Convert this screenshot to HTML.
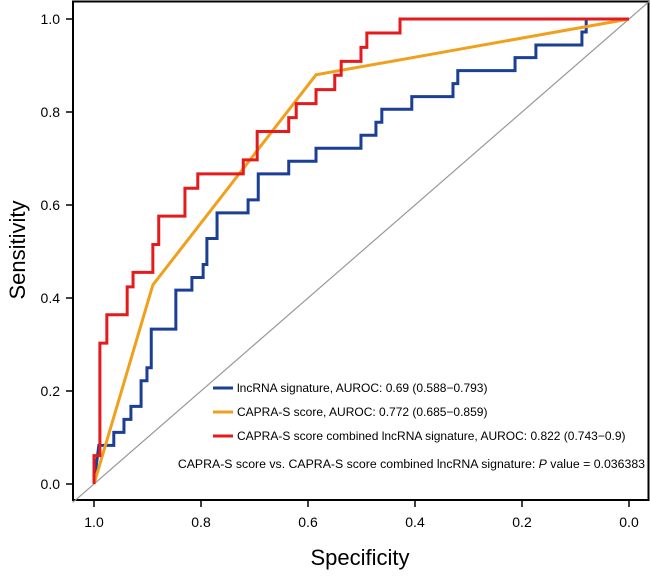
<!DOCTYPE html>
<html><head><meta charset="utf-8"><style>
body{margin:0;background:#fff;font-family:"Liberation Sans",Arial,sans-serif}
svg text{font-family:"Liberation Sans",Arial,sans-serif}
</style></head><body>
<svg id="chart" width="650" height="575" viewBox="0 0 650 575" xmlns="http://www.w3.org/2000/svg">
<rect x="73" y="1.5" width="575.5" height="498.5" fill="none" stroke="#000" stroke-width="2"/>
<g id="axes"></g>
<line id="diag" stroke="#999" stroke-width="1.2"/>
<g id="series"></g>
<g>
<line x1="213" y1="388" x2="233" y2="388" stroke="#1a3f95" stroke-width="3"/>
<text x="237" y="392" font-size="12">lncRNA signature, AUROC: 0.69 (0.588−0.793)</text>
<line x1="213" y1="412" x2="233" y2="412" stroke="#f0a01c" stroke-width="3"/>
<text x="237" y="416" font-size="12">CAPRA-S score, AUROC: 0.772 (0.685−0.859)</text>
<line x1="213" y1="436" x2="233" y2="436" stroke="#e41a1c" stroke-width="3"/>
<text x="237" y="440" font-size="12">CAPRA-S score combined lncRNA signature, AUROC: 0.822 (0.743−0.9)</text>
</g>
<text x="645" y="468" font-size="12.3" text-anchor="end">CAPRA-S score vs. CAPRA-S score combined lncRNA signature: <tspan font-style="italic">P</tspan> value = 0.036383</text>
<text x="360" y="565" font-size="22" text-anchor="middle">Specificity</text>
<text transform="translate(25,250) rotate(-90)" font-size="22" text-anchor="middle">Sensitivity</text>
</svg>
<script>
const xTicks = [1.0, 0.8, 0.6, 0.4, 0.2, 0.0];
const yTicks = [0.0, 0.2, 0.4, 0.6, 0.8, 1.0];
const tickLabels = ["0.0","0.2","0.4","0.6","0.8","1.0"];
const redSpec = [1,1,0.989,0.989,0.976,0.976,0.938,0.938,0.927,0.927,0.890,0.890,0.879,0.879,0.830,0.830,0.806,0.806,0.721,0.721,0.695,0.695,0.636,0.636,0.622,0.622,0.585,0.585,0.550,0.550,0.538,0.538,0.501,0.501,0.490,0.490,0.428,0.428,0];
const redSens = [0,0.061,0.061,0.303,0.303,0.364,0.364,0.424,0.424,0.455,0.455,0.515,0.515,0.576,0.576,0.636,0.636,0.667,0.667,0.697,0.697,0.758,0.758,0.788,0.788,0.818,0.818,0.848,0.848,0.879,0.879,0.909,0.909,0.939,0.939,0.970,0.970,1,1];
const blueSpec = [1,0.991,0.963,0.963,0.944,0.944,0.931,0.931,0.912,0.912,0.901,0.901,0.893,0.893,0.847,0.847,0.817,0.817,0.796,0.796,0.789,0.789,0.770,0.770,0.712,0.712,0.693,0.693,0.636,0.636,0.585,0.585,0.501,0.501,0.473,0.473,0.462,0.462,0.406,0.406,0.329,0.329,0.320,0.320,0.213,0.213,0.174,0.174,0.088,0.088,0.080,0.080,0];
const blueSens = [0,0.083,0.083,0.111,0.111,0.139,0.139,0.167,0.167,0.222,0.222,0.25,0.25,0.333,0.333,0.417,0.417,0.444,0.444,0.472,0.472,0.528,0.528,0.583,0.583,0.611,0.611,0.667,0.667,0.694,0.694,0.722,0.722,0.75,0.75,0.778,0.778,0.806,0.806,0.833,0.833,0.861,0.861,0.889,0.889,0.917,0.917,0.944,0.944,0.972,0.972,1,1];
const orangeSpec = [1,0.890,0.585,0];
const orangeSens = [0,0.428,0.880,1];

const NS="http://www.w3.org/2000/svg";
const sx = s => 94 + (1 - s) * 535;
const sy = v => 484 - v * 465;
const axes = document.getElementById('axes');
function mk(tag, attrs, parent){const e=document.createElementNS(NS,tag);for(const k in attrs)e.setAttribute(k,attrs[k]);parent.appendChild(e);return e;}
xTicks.forEach(t=>{
  const l=mk('line',{x1:sx(t),x2:sx(t),y1:500,y2:507,stroke:'#000','stroke-width':1.5},axes);
  
  
  const tx=mk('text',{x:sx(t),y:527,'font-size':14,'text-anchor':'middle'},axes);
  
  
  tx.textContent=t.toFixed(1);
});
yTicks.forEach((t,i)=>{
  const l=mk('line',{x1:66,x2:73,y1:sy(t),y2:sy(t),stroke:'#000','stroke-width':1.5},axes);
  
  
  const tx=mk('text',{x:60,y:sy(t)+5,'font-size':14,'text-anchor':'end'},axes);
  
  
  tx.textContent=tickLabels[i];
});
const d=document.getElementById('diag');
d.setAttribute('x1',sx(1.04));d.setAttribute('y1',sy(-0.04));d.setAttribute('x2',sx(-0.04));d.setAttribute('y2',sy(1.04));
const ser=document.getElementById('series');
function curve(spec,sens,color,name){
  const p=mk('polyline',{points:spec.map((s,i)=>sx(s)+','+sy(sens[i])).join(' '),fill:'none',stroke:color,'stroke-width':3,'stroke-linejoin':'miter'},ser);
  
  
}
curve(blueSpec,blueSens,'#1a3f95','roc-lncrna-signature');
curve(orangeSpec,orangeSens,'#f0a01c','roc-capra-s-score');
curve(redSpec,redSens,'#e41a1c','roc-combined');
</script>
</body></html>
